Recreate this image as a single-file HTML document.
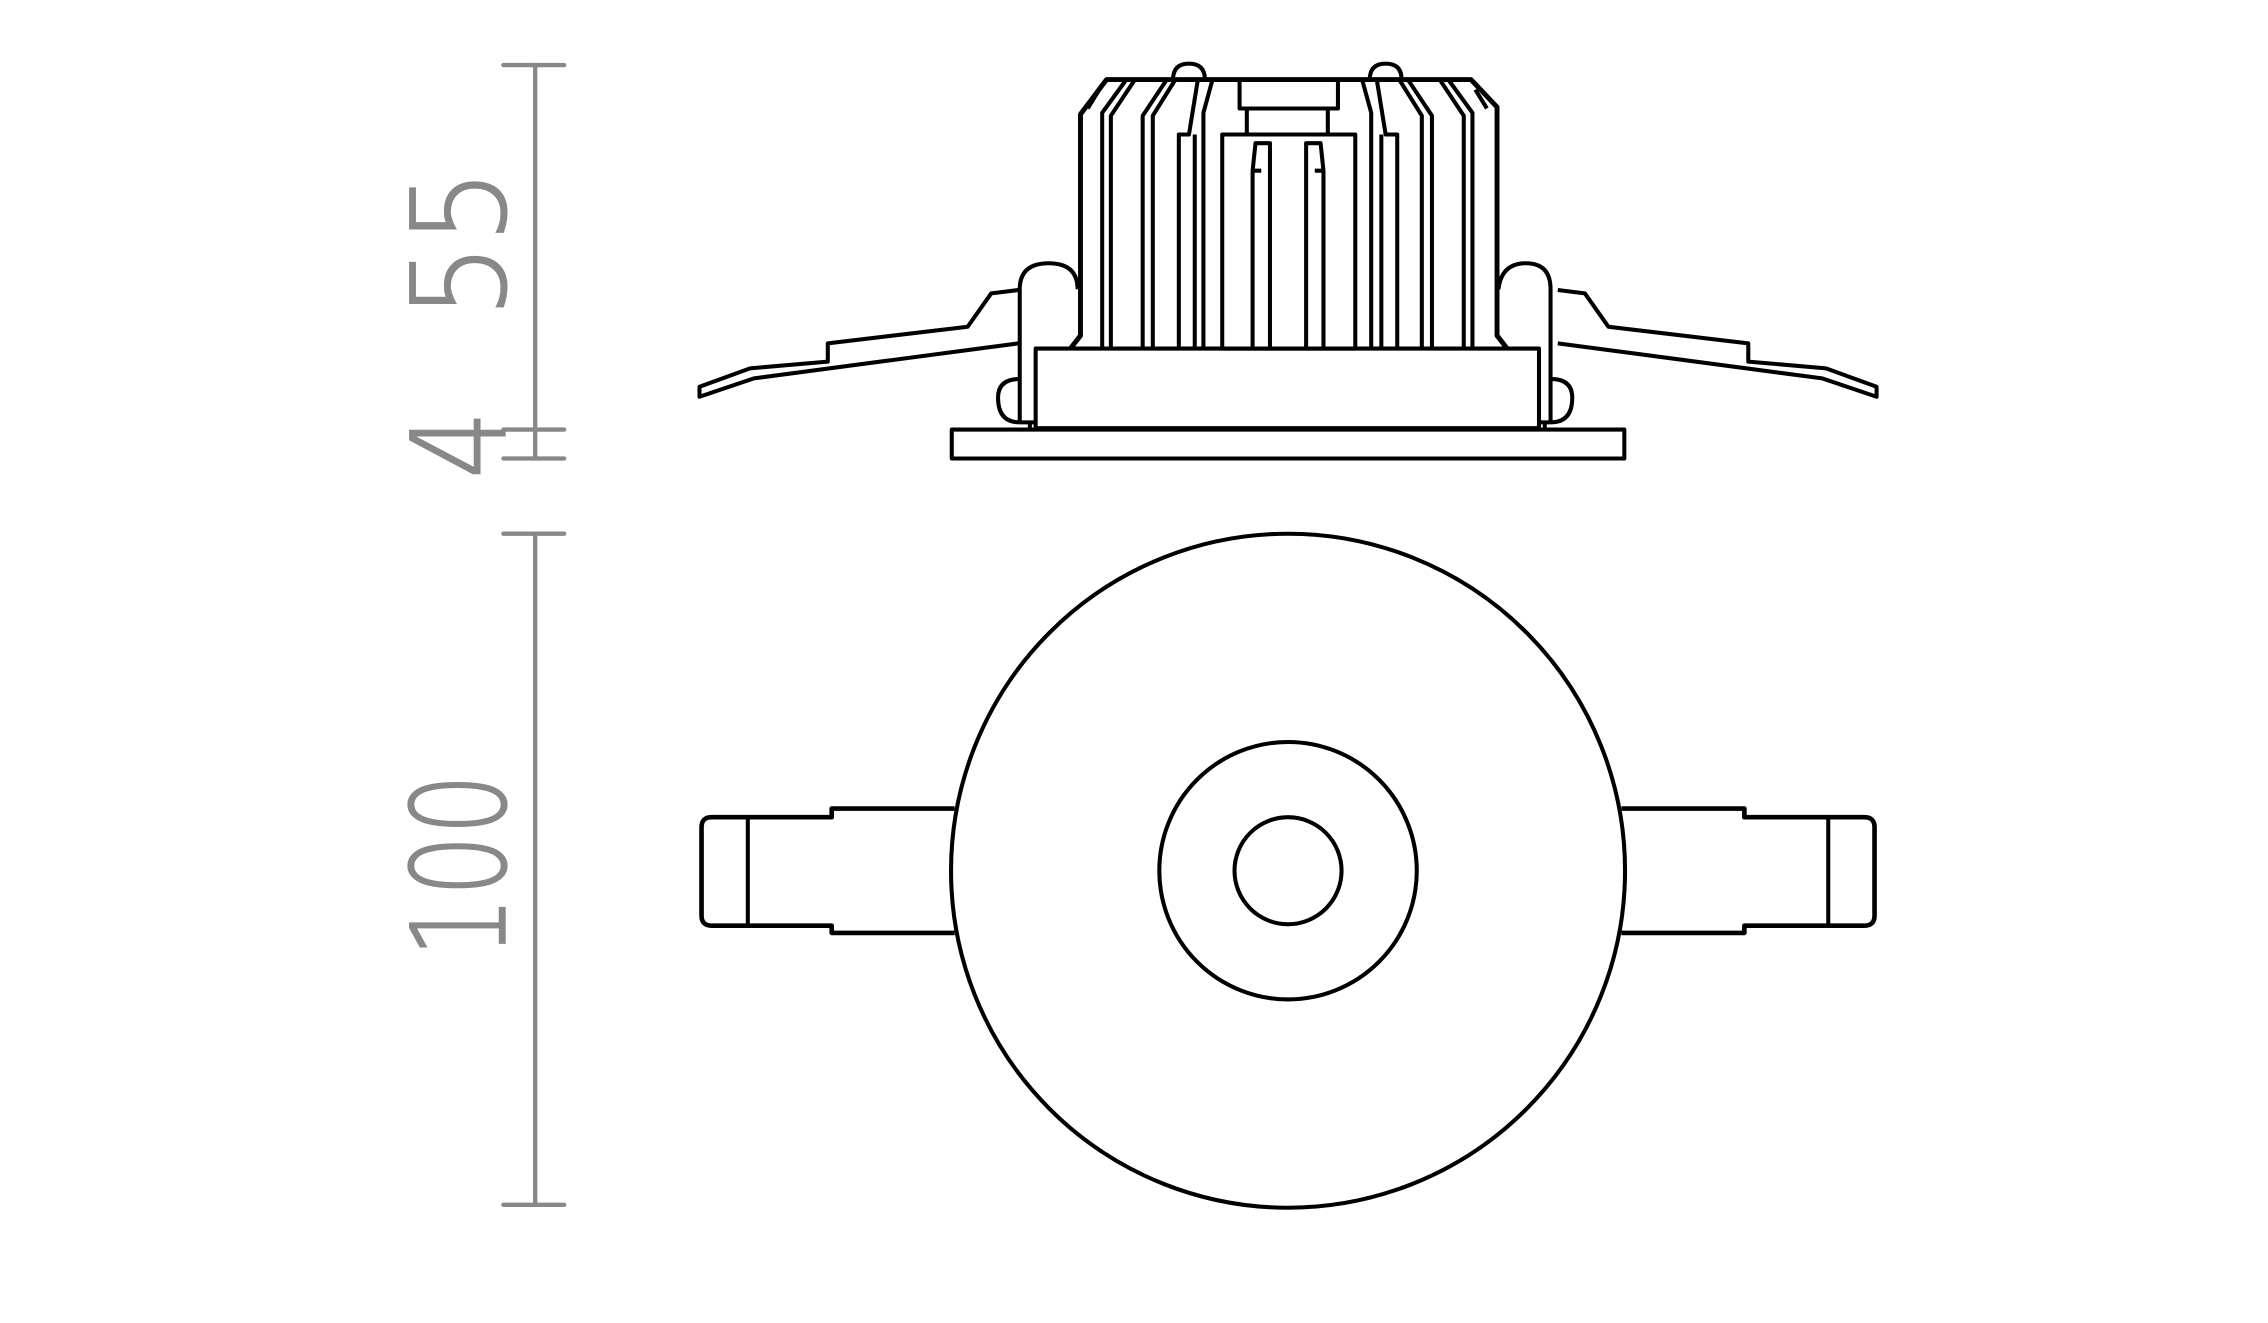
<!DOCTYPE html>
<html><head><meta charset="utf-8"><style>html,body{margin:0;padding:0;background:#fff}svg{display:block}</style></head>
<body>
<svg width="2268" height="1323" viewBox="0 0 1568 914.7" xmlns="http://www.w3.org/2000/svg">
<g stroke="#888" stroke-width="3" stroke-linecap="round" fill="none">
<line x1="370" y1="45" x2="370" y2="317"/>
<line x1="348" y1="45" x2="390" y2="45"/>
<line x1="348" y1="297" x2="390" y2="297"/>
<line x1="348" y1="317" x2="390" y2="317"/>
<line x1="370" y1="369" x2="370" y2="833"/>
<line x1="348" y1="369" x2="390" y2="369"/>
<line x1="348" y1="833" x2="390" y2="833"/>
</g>
<g fill="#888" stroke="#888" stroke-width="1.2" font-family="DejaVu Sans, Liberation Sans, sans-serif" font-weight="200">
<text transform="translate(349,220) rotate(-90) scale(0.9,1)" font-size="90">55</text>
<text transform="translate(349,331) rotate(-90) scale(0.82,1)" font-size="90">4</text>
<text transform="translate(349,662) rotate(-90) scale(0.74,1)" font-size="90">100</text>
</g>
<g stroke="#000" stroke-width="2.8" fill="none" stroke-linejoin="round">
<rect x="658" y="297" width="465" height="20" fill="#fff"/>
<rect x="716" y="241" width="348" height="55"/>
<path d="M740,241 L747,232 L747,79 L765,55 L1017,55 L1035,74 L1035,232 L1042,241" stroke-width="3.4"/>
<path d="M752,75 L760,62"/>
<path d="M1028,75 L1020,62"/>
<path d="M762,241 V78 L778,56 M768,241 V80 L784,56"/>
<path d="M790,241 V80 L806,56 M797,241 V80 L812,56"/>
<path d="M815,241 V93 H822 L828,56 M826,241 V93 M832,241 V78 L838,56"/>
<path d="M1018,241 V78 L1002,56 M1012,241 V80 L996,56"/>
<path d="M990,241 V80 L974,56 M983,241 V80 L968,56"/>
<path d="M966,241 V93 H958 L952,56 M955,241 V93 M948,241 V78 L942,56"/>
<rect x="857" y="55" width="68" height="20"/>
<rect x="862" y="75" width="56" height="18"/>
<rect x="845" y="93" width="92" height="148"/>
<path d="M866,241 V118 L868,99 H878 V241 M866,118 H872"/>
<path d="M915,241 V118 L913,99 H903 V241 M915,118 H909"/>
<path d="M811,55 Q811,44 822,44 Q833,44 833,55"/>
<path d="M947,55 Q947,44 958,44 Q969,44 969,55"/>
<path d="M705,292 V200 Q705,182 725,182 Q745,182 745,200"/>
<path d="M1072,292 V200 Q1072,182 1055,182 Q1038,182 1036,200"/>
<path d="M705,292 H716 M1072,292 H1064"/>
<path d="M705,262 Q690,262 690,275 Q690,292 705,292"/>
<path d="M1072,262 Q1087,262 1087,275 Q1087,292 1072,292"/>
<line x1="712" y1="292" x2="712" y2="297"/>
<line x1="1068" y1="292" x2="1068" y2="297"/>
<path d="M704,200.5 L685.3,202.8 L669,225.9 L572.3,237.4 L572.3,250 L518.5,254.7 L483.6,267.4 L483.6,274.3 L521.2,261.6 L704,237.4"/>
<path d="M1077,200.5 L1095.7,202.8 L1112,225.9 L1208.7,237.4 L1208.7,250 L1262.5,254.7 L1297.4,267.4 L1297.4,274.3 L1259.8,261.6 L1077,237.4"/>
<circle cx="890.5" cy="602" r="233"/>
<circle cx="890.5" cy="602" r="89"/>
<circle cx="890.5" cy="602" r="37"/>
<path d="M660,559 H575 V565 H492 Q485,565 485,572 V633 Q485,640 492,640 H575 V645 H660" stroke-width="3.2"/>
<line x1="517" y1="565" x2="517" y2="640"/>
<path d="M1121,559 H1206 V565 H1289 Q1296,565 1296,572 V633 Q1296,640 1289,640 H1206 V645 H1121" stroke-width="3.2"/>
<line x1="1264" y1="565" x2="1264" y2="640"/>
</g>
</svg>
</body></html>
